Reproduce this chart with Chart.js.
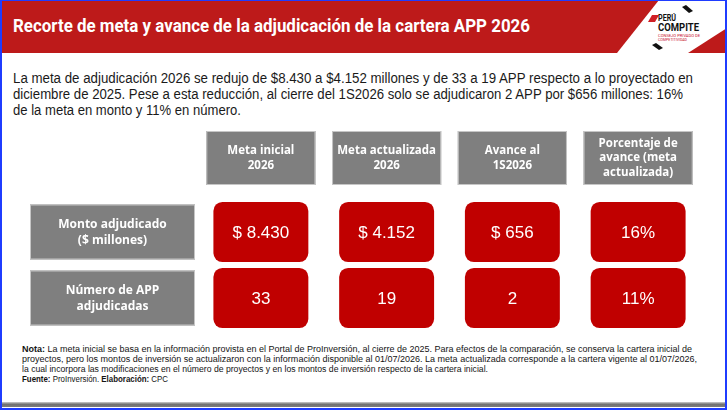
<!DOCTYPE html>
<html>
<head>
<meta charset="utf-8">
<script src="https://cdn.jsdelivr.net/npm/chart.js@4.4.1/dist/chart.umd.min.js"></script>
<style>
  html, body { margin: 0; padding: 0; background: #fff; }
  #page { position: relative; width: 727px; height: 410px; overflow: hidden; background: #fff; }
  .line { position: absolute; white-space: nowrap; transform-origin: 0 0; }
  #title { left: 13px; top: 16px; font: 700 18px/20px Roboto, sans-serif; color: #fff; }
  .para { left: 13px; font: 400 14px/16px "Liberation Sans", Arial, sans-serif; color: #1a1a1a; }
  .note { left: 22px; font: 400 9.2px/10px "Liberation Sans Narrow", "Liberation Sans", sans-serif; color: #141414; }
  #chartBox { position: absolute; left: 0; top: 126px; width: 727px; height: 208px; }
  #bottomBar { position: absolute; left: 2px; right: 2px; top: 402px; height: 5px; background: linear-gradient(#cfcfcf, #707070 45%, #7d7d7d); }
  #frame { position: absolute; left: 0; top: 0; width: 727px; height: 410px; box-sizing: border-box; border: 2px solid #1f3cff; border-top-width: 1px; pointer-events: none; }
</style>
</head>
<body>
<div id="page">
  <!-- header band and logo shapes -->
  <svg width="727" height="60" style="position:absolute;left:0;top:0">
    <polygon points="0,0 659,0 617,53 0,53" fill="#bd1a1a"/>
    <polygon points="727,28 727,53 688,53" fill="#bd1a1a"/>
    <polygon points="652,15 659,15 655,22 648,22" fill="#d01f25"/>
    <polygon points="682,7 686,5 693,11 689,13" fill="#111"/>
    <polygon points="652,45 656,43 663,48 659,50" fill="#111"/>
    <text x="658" y="21" font-family="Roboto" font-weight="700" font-size="9.5" fill="#111" textLength="18" lengthAdjust="spacingAndGlyphs">PERÚ</text>
    <text x="658" y="31" font-family="Roboto" font-weight="700" font-size="11" fill="#111" textLength="41" lengthAdjust="spacingAndGlyphs">COMPITE</text>
    <text x="658" y="36.5" font-family="Roboto" font-size="3.6" fill="#c8102e" textLength="42" lengthAdjust="spacingAndGlyphs">CONSEJO PRIVADO DE</text>
    <text x="658" y="40.5" font-family="Roboto" font-size="3.6" fill="#c8102e" textLength="29" lengthAdjust="spacingAndGlyphs">COMPETITIVIDAD</text>
  </svg>

  <div id="title" class="line" data-w="517">Recorte de meta y avance de la adjudicación de la cartera APP 2026</div>

  <div class="line para" style="top:70px" data-w="680">La meta de adjudicación 2026 se redujo de $8.430 a $4.152 millones y de 33 a 19 APP respecto a lo proyectado en</div>
  <div class="line para" style="top:86px" data-w="670">diciembre de 2025. Pese a esta reducción, al cierre del 1S2026 solo se adjudicaron 2 APP por $656 millones: 16%</div>
  <div class="line para" style="top:101.5px" data-w="228">de la meta en monto y 11% en número.</div>

  <div id="chartBox"><canvas id="tableChart"></canvas></div>

  <div class="line note" style="top:344px" data-w="670"><b>Nota:</b> La meta inicial se basa en la información provista en el Portal de ProInversión, al cierre de 2025. Para efectos de la comparación, se conserva la cartera inicial de</div>
  <div class="line note" style="top:354px" data-w="675">proyectos, pero los montos de inversión se actualizaron con la información disponible al 01/07/2026. La meta actualizada corresponde a la cartera vigente al 01/07/2026,</div>
  <div class="line note" style="top:364px" data-w="466">la cual incorpora las modificaciones en el número de proyectos y en los montos de inversión respecto de la cartera inicial.</div>
  <div class="line note" style="top:373.5px" data-w="146"><b>Fuente:</b> ProInversión. <b>Elaboración:</b> CPC</div>

  <div id="bottomBar"></div>
  <div id="frame"></div>
</div>

<script>
/* Table data */
var columnLabels = [
    ['Meta inicial', '2026'],
    ['Meta actualizada', '2026'],
    ['Avance al', '1S2026'],
    ['Porcentaje de', 'avance (meta', 'actualizada)']
];
var rowLabels = [
    ['Monto adjudicado', '($ millones)'],
    ['Número de APP', 'adjudicadas']
];
var montoAdjudicado = [8430, 4152, 656]; // $ millones
var numeroApp = [33, 19, 2];
var avancePct = [16, 11]; // % of the updated target (monto, número)

/* Colors */
var red_color = '#c00000';
var gray_color = '#7f7f7f';
var gray_border = '#c6c6c6';

/* Thousands separator with a dot */
function formatNumber(v) {
    return String(v).replace(/\B(?=(\d{3})+(?!\d))/g, '.');
}

// Text shown inside every red cell, row by row
var cellTexts = [
    montoAdjudicado.map(function(v) { return '$ ' + formatNumber(v); }).concat(avancePct[0] + '%'),
    numeroApp.map(function(v) { return String(v); }).concat(avancePct[1] + '%')
];

/* Squeeze a text line to the width it has in the reference */
function fitLines() {
    document.querySelectorAll('.line[data-w]').forEach(function(el) {
        var w = el.getBoundingClientRect().width;
        el.style.transform = 'scaleX(' + (parseFloat(el.dataset.w) / w) + ')';
    });
}

function drawBox(ctx, x, y, w, h) {
    ctx.fillStyle = gray_color;
    ctx.fillRect(x, y, w, h);
    ctx.strokeStyle = gray_border;
    ctx.lineWidth = 1;
    ctx.strokeRect(x + 0.5, y + 0.5, w - 1, h - 1);
}

function drawLines(ctx, lines, cx, cy, step) {
    var start = cy - (lines.length - 1) * step / 2;
    lines.forEach(function(t, i) {
        ctx.fillText(t, cx, start + i * step);
    });
}

/* Gray header and row label boxes, values inside the red cells */
var tablePlugin = {
    id: 'tableBoxes',
    beforeDatasetsDraw: function(chart) {
        var ctx = chart.ctx;
        var x = chart.scales.x;
        var y = chart.scales.y;
        ctx.save();
        ctx.textAlign = 'center';
        ctx.textBaseline = 'middle';

        // Column headers
        var headW = x.width / columnLabels.length * 0.868;
        columnLabels.forEach(function(lines, i) {
            var cx = x.getPixelForValue(i);
            drawBox(ctx, cx - headW / 2, x.top + 1, headW, 54);
            ctx.fillStyle = '#fff';
            ctx.font = 'bold 11.5px "Open Sans"';
            drawLines(ctx, lines, cx, x.top + 28, 14.5);
        });

        // Row labels
        rowLabels.forEach(function(lines, r) {
            var cy = y.getPixelForValue(r);
            drawBox(ctx, y.left + 2, cy - 27.5, 165, 55);
            ctx.fillStyle = '#fff';
            ctx.font = 'bold 12px "Open Sans"';
            drawLines(ctx, lines, y.left + 2 + 82.5, cy + 0.5, 15.5);
        });
        ctx.restore();
    },
    afterDatasetsDraw: function(chart) {
        var ctx = chart.ctx;
        ctx.save();
        ctx.fillStyle = '#fff';
        ctx.font = '17px "Liberation Sans"';
        ctx.textAlign = 'center';
        ctx.textBaseline = 'middle';
        chart.data.datasets.forEach(function(ds, r) {
            chart.getDatasetMeta(r).data.forEach(function(bar, c) {
                var p = bar.getCenterPoint();
                ctx.fillText(cellTexts[r][c], p.x, p.y + 1);
            });
        });
        ctx.restore();
    }
};

document.addEventListener('DOMContentLoaded', function() {
    fitLines();

    // One floating bar per cell, spanning its row band
    var datasets = rowLabels.map(function(label, r) {
        return {
            label: label.join(' '),
            data: cellTexts[r].map(function() { return [r - 0.455, r + 0.455]; }),
            backgroundColor: red_color,
            borderRadius: 9,
            borderSkipped: false,
            grouped: false,
            categoryPercentage: 1,
            barPercentage: 0.755,
            yAxisID: 'yv'
        };
    });

    new Chart(document.getElementById('tableChart'), {
        type: 'bar',
        data: {
            labels: columnLabels,
            datasets: datasets
        },
        options: {
            responsive: true,
            maintainAspectRatio: false,
            animation: false,
            events: [],
            layout: { padding: { top: 4, left: 28, right: 26, bottom: 3 } },
            plugins: {
                legend: { display: false },
                tooltip: { enabled: false }
            },
            scales: {
                x: {
                    type: 'category',
                    position: 'top',
                    grid: { display: false },
                    border: { display: false },
                    ticks: { display: false },
                    afterFit: function(scale) { scale.height = 69; }
                },
                y: {
                    type: 'category',
                    position: 'left',
                    labels: rowLabels.map(function(l) { return l.join(' '); }),
                    offset: true,
                    grid: { display: false },
                    border: { display: false },
                    ticks: { display: false },
                    afterFit: function(scale) { scale.width = 170; }
                },
                yv: {
                    type: 'linear',
                    display: false,
                    min: -0.5,
                    max: 1.5,
                    reverse: true
                }
            }
        },
        plugins: [tablePlugin]
    });
});
</script>
</body>
</html>
